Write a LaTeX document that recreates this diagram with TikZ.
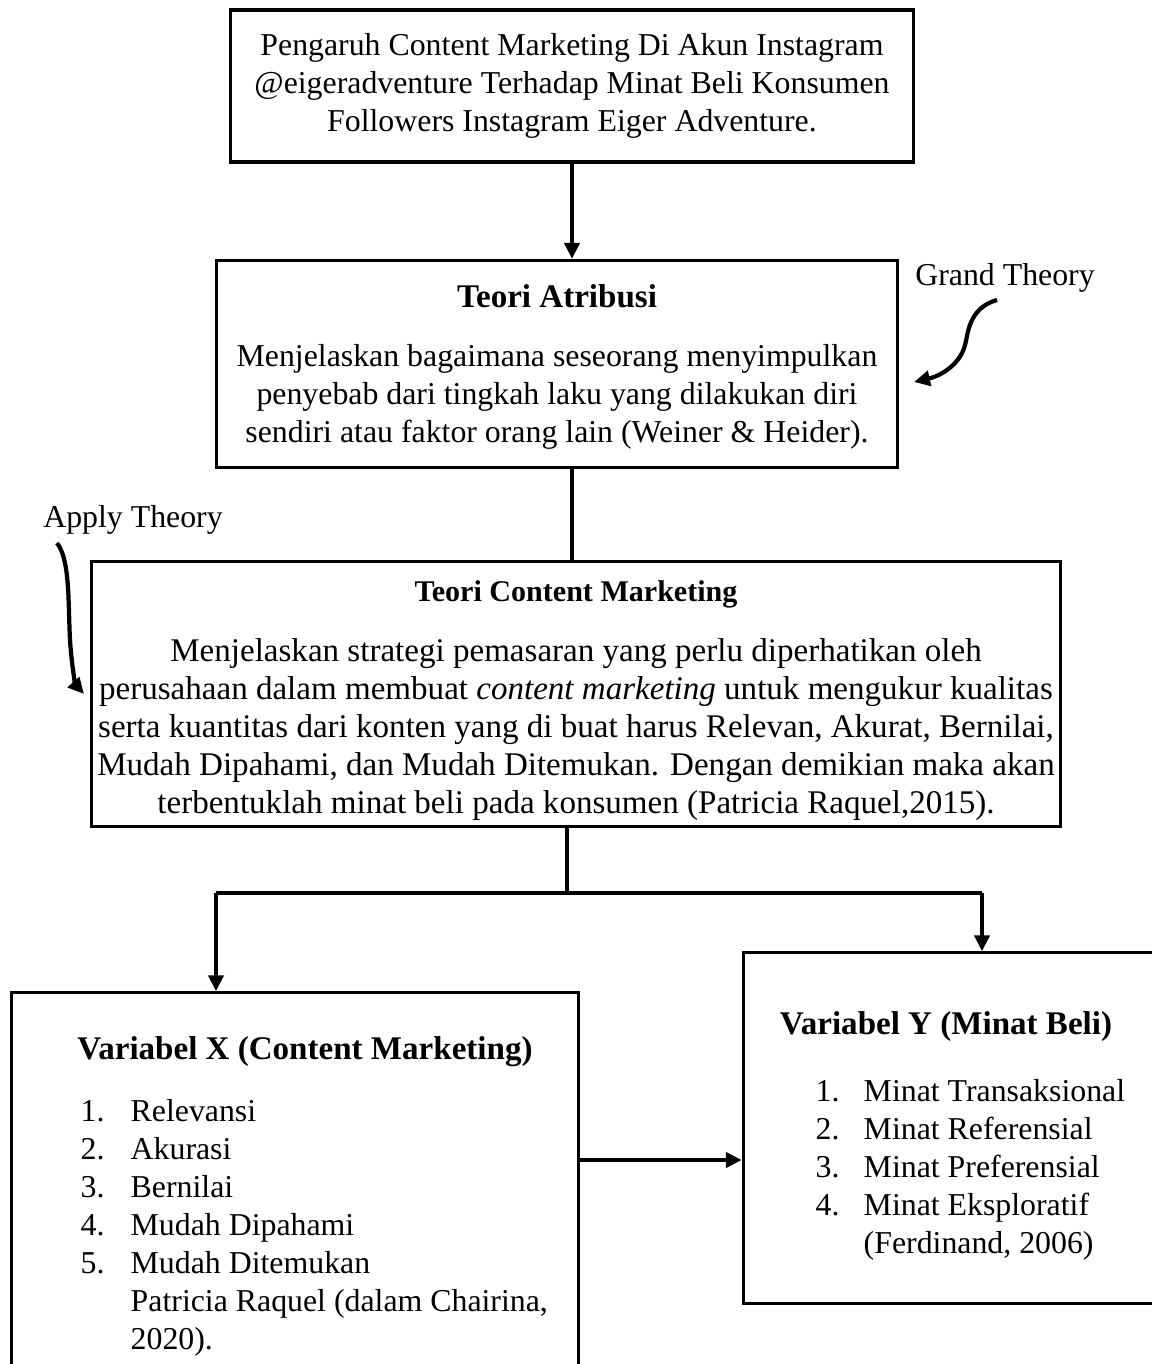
\documentclass[tikz,border=0pt]{standalone}
\usepackage{fontspec}
\setmainfont{Liberation Serif}
\usetikzlibrary{arrows.meta,positioning}

\newcommand{\bigtitle}[1]{{\fontsize{9.4}{10.8}\selectfont\bfseries #1}}

\begin{document}
\begin{tikzpicture}[x=0.01cm,y=-0.01cm,
  every node/.style={font=\fontsize{9.05}{10.8}\selectfont},
  box/.style={draw=black,line width=0.9pt,align=center,inner sep=0pt},
  conn/.style={line width=1.2pt},
  arr/.style={conn,-{Triangle[width=0.15cm,length=0.16cm]}},
  list/.style={anchor=north west,inner sep=0pt}
]
\useasboundingbox (0,0) rectangle (1152,1364);

% boxes
\node[box,minimum width=6.82cm,minimum height=1.52cm] (judul) at (572,86)
  {Pengaruh Content Marketing Di Akun Instagram\\
   @eigeradventure Terhadap Minat Beli Konsumen\\
   Followers Instagram Eiger Adventure.};

\node[box,minimum width=6.80cm,minimum height=2.07cm] (atribusi) at (557,364)
  {\rule{0pt}{8pt}\bigtitle{Teori Atribusi}\\[0.21cm]
   Menjelaskan bagaimana seseorang menyimpulkan\\
   penyebab dari tingkah laku yang dilakukan diri\\
   sendiri atau faktor orang lain (Weiner \& Heider).};

\node[box,minimum width=9.68cm,minimum height=2.65cm,
  font=\fontsize{9.4}{10.8}\selectfont] (content) at (576,694)
  {\rule{0pt}{9.7pt}{\fontsize{8.55}{10.8}\selectfont\bfseries Teori Content Marketing}\\[0.22cm]
   Menjelaskan strategi pemasaran yang perlu diperhatikan oleh\\
   perusahaan dalam membuat \textit{content marketing} untuk mengukur kualitas\\
   serta kuantitas dari konten yang di buat harus Relevan, Akurat, Bernilai,\\
   Mudah Dipahami, dan Mudah Ditemukan. Dengan demikian maka akan\\
   terbentuklah minat beli pada konsumen (Patricia Raquel,2015).};

\node[box,minimum width=5.66cm,minimum height=4.20cm] (varx) at (295,1203) {};
\node (varxjudul) at (305,1052) {\bigtitle{Variabel X (Content Marketing)}};
\node[list] (varxisi) at (80,1094)
  {\begin{tabular}{@{}p{0.5cm}@{}l@{}}
   1. & Relevansi\\
   2. & Akurasi\\
   3. & Bernilai\\
   4. & Mudah Dipahami\\
   5. & Mudah Ditemukan\\
      & Patricia Raquel (dalam Chairina,\\
      & 2020).
   \end{tabular}};

\node[box,minimum width=4.21cm,minimum height=3.50cm] (vary) at (954,1128) {};
\node (varyjudul) at (946,1027) {\bigtitle{Variabel Y (Minat Beli)}};
\node[list] (varyisi) at (815,1074)
  {\begin{tabular}{@{}p{0.48cm}@{}l@{}}
   1. & Minat Transaksional\\
   2. & Minat Referensial\\
   3. & Minat Preferensial\\
   4. & Minat Eksploratif\\
      & (Ferdinand, 2006)
   \end{tabular}};

% side labels
\node (grand) at (1005,278) {Grand Theory};
\node (apply) at (133,520) {Apply Theory};
\coordinate (gstart) at (997,300);
\coordinate (gend) at (914,382);
\coordinate (astart) at (57,543);
\coordinate (aend) at (84,694);

% connectors
\coordinate (split) at (567,893);
\coordinate (lsplit) at (216,893);
\coordinate (rsplit) at (982,893);
\coordinate (mid) at (0,1160);

\draw[arr] (judul.south) -- (judul.south |- atribusi.north);
\draw[conn] (judul.south |- atribusi.south) -- (judul.south |- content.north);
\draw[conn] (content.south -| split) -- (split);
\draw[conn] (lsplit) -- (rsplit);
\draw[arr] (lsplit) -- (lsplit |- varx.north);
\draw[arr] (rsplit) -- (rsplit |- vary.north);
\draw[arr] (varx.east |- mid) -- (vary.west |- mid);

\draw[arr] (gstart) .. controls (968,308) and (968,335) .. (965,345)
  .. controls (960,365) and (940,376) .. (gend);
\draw[arr] (astart) .. controls (70,560) and (68,600) .. (70,640)
  .. controls (72,670) and (76,685) .. (aend);
\end{tikzpicture}
\end{document}
